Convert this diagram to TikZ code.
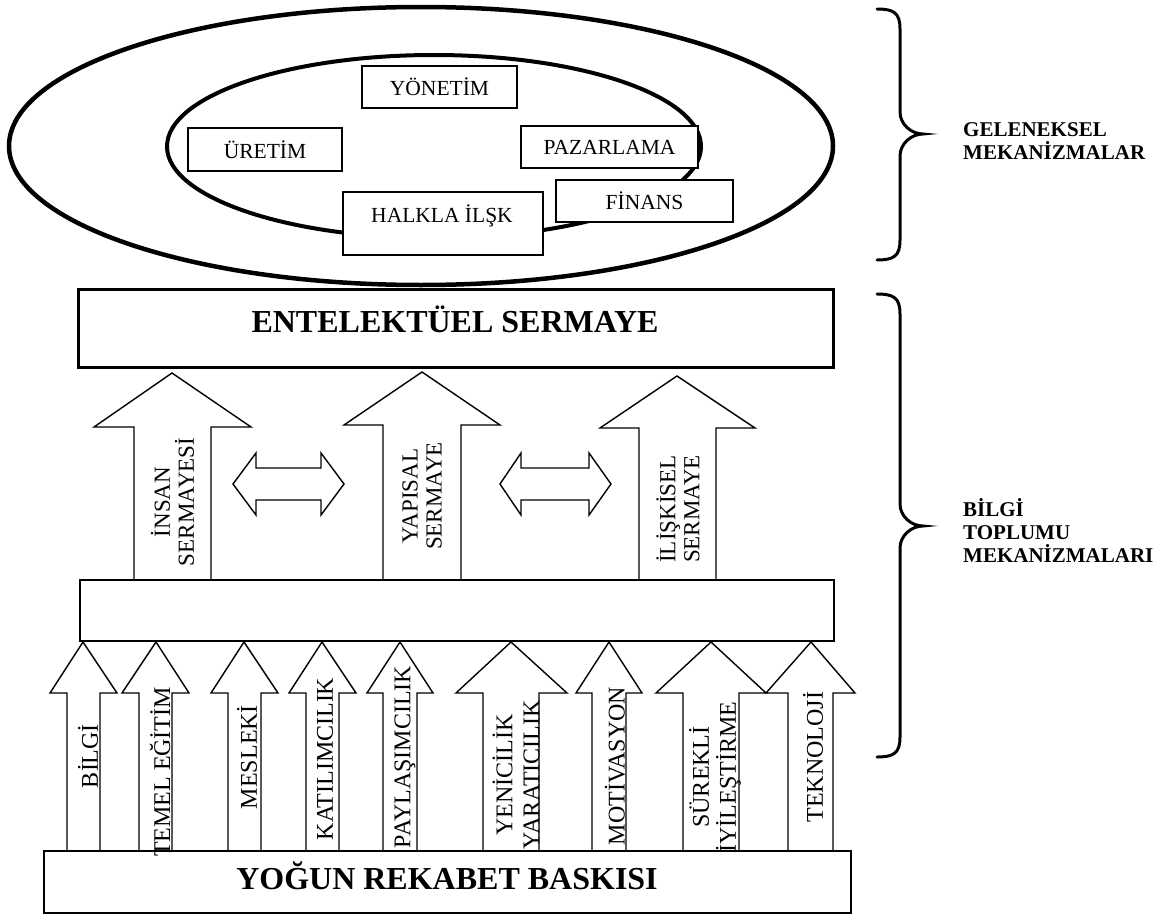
\documentclass[tikz,border=0pt]{standalone}
\usepackage{fontspec}
\setmainfont{Liberation Serif}
\usetikzlibrary{shapes.geometric}

% block arrow pointing up: shaft left/right, head left/right, tip x, tip y, head base y, foot y
\newcommand\uparrowshape[8]{%
  \draw[arrowline] (#1,#8) -- (#1,#7) -- (#3,#7) -- (#5,#6) -- (#4,#7) -- (#2,#7) -- (#2,#8);}
% horizontal double-headed block arrow: left tip, left head base, right head base, right tip, middle y
\newcommand\twowayshape[5]{%
  \draw[arrowline] (#1,#5) -- (#2,#5-31) -- (#2,#5-16) -- (#3,#5-16) -- (#3,#5-31) -- (#4,#5)
    -- (#3,#5+31) -- (#3,#5+16) -- (#2,#5+16) -- (#2,#5+31) -- cycle;}
% curly brace opening to the left: x of ends, x of body, x of tip, top y, tip y, bottom y
\newcommand\bracepath[6]{%
  \draw[bracestroke] (#1,#4) .. controls (#2-6,#4) and (#2,#4+4) .. (#2,#4+20)
    -- (#2,#5-22) .. controls (#2,#5-10) and (#3-12,#5) .. (#3,#5)
    .. controls (#3-12,#5) and (#2,#5+10) .. (#2,#5+22)
    -- (#2,#6-20) .. controls (#2,#6-4) and (#2-6,#6) .. (#1,#6);}

\begin{document}
\begin{tikzpicture}[x=1pt,y=-1pt,
  ring/.style={draw, ellipse, inner sep=0pt},
  fbox/.style={draw, fill=white, line width=1.3pt, inner sep=0pt},
  flabel/.style={font=\fontsize{21.5}{23}\selectfont, inner sep=0pt},
  vlabel/.style={rotate=90, align=center, inner sep=0pt, font=\fontsize{24}{24}\selectfont},
  vlabelwide/.style={vlabel, font=\fontsize{24}{27}\selectfont},
  caplabel/.style={vlabel, font=\fontsize{23}{24}\selectfont},
  biglabel/.style={font=\bfseries\fontsize{32}{34}\selectfont, inner sep=0pt},
  sidelabel/.style={anchor=west, align=left, inner sep=0pt, font=\bfseries\fontsize{21}{23}\selectfont},
  arrowline/.style={line width=1.4pt, line join=miter, fill=white},
  bracestroke/.style={line width=3pt, line cap=round}]
\useasboundingbox (0,0) rectangle (1170,918);

% traditional mechanisms: two rings with the functions on top
\node[ring, line width=4.5pt, minimum width=824pt, minimum height=278pt] (outer) at (421,146) {};
\node[ring, line width=4pt, minimum width=534pt, minimum height=183pt] (inner) at (434,146.5) {};

\node[fbox, minimum width=155pt, minimum height=42pt, flabel] (yonetim) at (439.5,87) {YÖNETİM};
\node[fbox, minimum width=154pt, minimum height=43pt, flabel] (uretim) at (265,149.5) {ÜRETİM};
\node[fbox, minimum width=177pt, minimum height=42pt, flabel] (pazarlama) at (609.5,147) {PAZARLAMA};
\node[fbox, minimum width=177pt, minimum height=42pt, flabel] (finans) at (644.5,201) {FİNANS};
\node[fbox, minimum width=200pt, minimum height=63pt] (halkla) at (443,223.5) {};
\node[flabel] (halklatext) at (442,216) {HALKLA İLŞK};

% intellectual capital
\node[draw, line width=3pt, minimum width=755pt, minimum height=78pt, inner sep=0pt] (entel) at (455.5,328) {};
\node[biglabel] (enteltext) at (455,319) {ENTELEKTÜEL SERMAYE};

% the three capital arrows and the links between them
\uparrowshape{134}{211}{94}{251}{172}{373}{427}{580}
\uparrowshape{383}{461}{344}{500}{422}{372}{425}{580}
\uparrowshape{639}{716}{600}{755}{677}{376}{428}{580}
\twowayshape{233}{256}{321}{344}{484}
\twowayshape{500}{521}{589}{611}{484}

\node[caplabel] (insan) at (172.5,502) {İNSAN\\SERMAYESİ};
\node[caplabel] (yapisal) at (422,496) {YAPISAL\\SERMAYE};
\node[caplabel] (iliskisel) at (678,509) {İLİŞKİSEL\\SERMAYE};

% collecting bar
\node[draw, line width=1.4pt, minimum width=754pt, minimum height=61pt, inner sep=0pt] (bar) at (457,610.5) {};

% the nine driving factors
\uparrowshape{67}{100}{50}{117}{83}{642}{693}{851}
\uparrowshape{139}{172}{122}{189}{156}{642}{693}{851}
\uparrowshape{228}{261}{211}{278}{244}{642}{693}{851}
\uparrowshape{306}{339}{289}{356}{322}{642}{693}{851}
\uparrowshape{383}{417}{367}{433}{400}{642}{693}{851}
\uparrowshape{483}{539}{456}{567}{511}{642}{693}{851}
\uparrowshape{592}{626}{576}{642}{609}{642}{693}{851}
\uparrowshape{683}{739}{656}{766}{711}{642}{693}{851}
\uparrowshape{788}{833}{766}{855}{811}{642}{693}{851}

\node[vlabel] (bilgi) at (88,756) {BİLGİ};
\node[vlabel] (temel) at (160,772) {TEMEL EĞİTİM};
\node[vlabel] (mesleki) at (247,757) {MESLEKİ};
\node[vlabel] (katilim) at (325,759) {KATILIMCILIK};
\node[vlabel] (paylasim) at (405,757) {PAYLAŞIMCILIK};
\node[vlabelwide] (yenicilik) at (516,775) {YENİCİLİK\\YARATICILIK};
\node[vlabel] (motivasyon) at (615,766) {MOTİVASYON};
\node[vlabelwide] (surekli) at (715,777) {SÜREKLİ\\İYİLEŞTİRME};
\node[vlabel] (teknoloji) at (813,757) {TEKNOLOJİ};

% competitive pressure at the base
\node[draw, line width=1.4pt, minimum width=807pt, minimum height=62pt, inner sep=0pt] (rekabet) at (447.5,882) {};
\node[biglabel] (rekabettext) at (447,876) {YOĞUN REKABET BASKISI};

% braces and their captions
\bracepath{877}{900}{923}{9}{134}{260}
\bracepath{877}{900}{923}{294}{526}{757}
\node[sidelabel] (geleneksel) at (963,141.5) {GELENEKSEL\\MEKANİZMALAR};
\node[sidelabel] (bilgitoplumu) at (963,530) {BİLGİ\\TOPLUMU\\MEKANİZMALARI};
\end{tikzpicture}
\end{document}
